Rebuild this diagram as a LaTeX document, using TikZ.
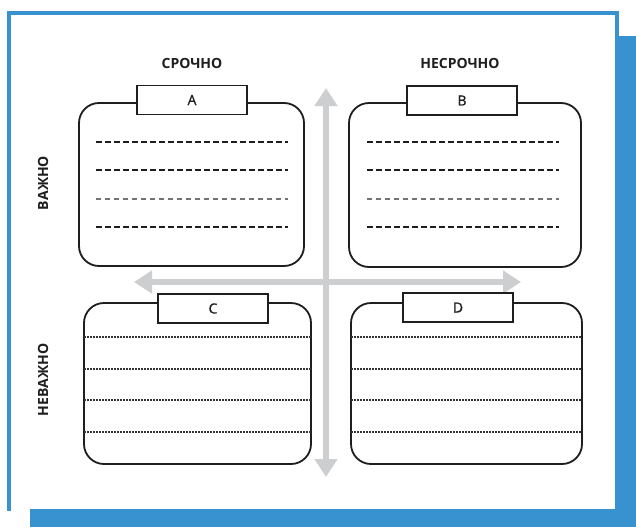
\documentclass[tikz,border=0pt]{standalone}
\usepackage{fontspec}
\setmainfont{Open Sans}
\usetikzlibrary{arrows.meta}
\definecolor{bl}{HTML}{3792CF}
\definecolor{ar}{HTML}{CDCED0}
\definecolor{ink}{HTML}{1E1E1E}
\begin{document}
\begin{tikzpicture}[x=1pt,y=-1pt,
  quad/.style={draw=ink, line width=1.8pt, rounded corners=20pt, fill=white, inner sep=0pt, outer sep=0pt},
  tabbox/.style={draw=ink, line width=1.5pt, fill=white, minimum width=110pt, minimum height=29pt, inner sep=0pt, text=ink, font=\fontsize{14}{16}\selectfont\addfontfeature{FakeBold=1}},
  head/.style={font=\bfseries\fontsize{14}{16}\selectfont, text=ink},
  dl/.style={draw=ink, line width=1.3pt, dash pattern=on 6pt off 3pt},
  dlg/.style={draw=black!55, line width=1.1pt, dash pattern=on 5pt off 4pt},
  dt/.style={draw=black!80, line width=1.1pt, dash pattern=on 2pt off 1pt},
  garrow/.style={draw=ar, line width=6pt, -{Triangle[width=22pt,length=18pt]}}
]
\useasboundingbox (0,0) rectangle (636,527);
% frame
\fill[bl] (30,36) rectangle (636,527);
\fill[white] (9,13) rectangle (617,509);
\draw[bl, line width=4pt] (9,511) -- (9,13) -- (617,13) -- (617,509);
% axes
\coordinate (ctr) at (326,282);
\coordinate (up) at (326,88);
\coordinate (dn) at (326,477);
\coordinate (lf) at (134,282);
\coordinate (rt) at (521,282);
\draw[garrow] (ctr) -- (up);
\draw[garrow] (ctr) -- (dn);
\draw[garrow] (ctr) -- (lf);
\draw[garrow] (ctr) -- (rt);
% headings
\node[head] (h1) at (192,63) {СРОЧНО};
\node[head] (h2) at (460,63) {НЕСРОЧНО};
\node[head, rotate=90] (v1) at (43,183) {ВАЖНО};
\node[head, rotate=90] (v2) at (43,380) {НЕВАЖНО};
% quadrants
\node[quad, minimum width=225pt, minimum height=163pt] (qa) at (191.5,184.5) {};
\node[quad, minimum width=232pt, minimum height=164pt] (qb) at (465,185) {};
\node[quad, minimum width=227pt, minimum height=161pt] (qc) at (197.5,383.5) {};
\node[quad, minimum width=231pt, minimum height=161pt] (qd) at (466.5,383.5) {};
% lines A
\draw[dl] (96,142) -- (288,142);
\draw[dl] (96,170) -- (288,170);
\draw[dlg] (96,199) -- (288,199);
\draw[dl] (96,227) -- (288,227);
% lines B
\draw[dl] (367,142) -- (559,142);
\draw[dl] (367,170) -- (559,170);
\draw[dlg] (367,199) -- (559,199);
\draw[dl] (367,227) -- (559,227);
% lines C
\foreach \yy in {337,369,400,432} {\draw[dt] (qc.west |- 0,\yy) -- (qc.east |- 0,\yy);}
% lines D
\foreach \yy in {337,369,400,432} {\draw[dt] (qd.west |- 0,\yy) -- (qd.east |- 0,\yy);}
% tabs
\node[tabbox] (ta) at (192,100) {A};
\node[tabbox] (tb) at (462,100.5) {B};
\node[tabbox] (tc) at (213,308.5) {C};
\node[tabbox] (td) at (458,307.5) {D};
\end{tikzpicture}
\end{document}
